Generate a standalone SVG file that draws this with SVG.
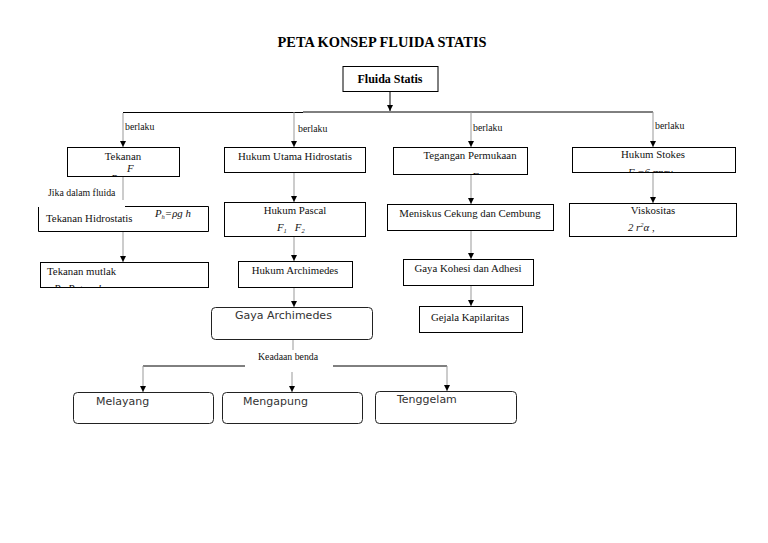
<svg xmlns="http://www.w3.org/2000/svg" width="768" height="543" viewBox="0 0 768 543">
<style>
.bx{fill:#fff;stroke:#000;stroke-width:1}
.rb{fill:#fff;stroke:#222;stroke-width:1}
.t{font-family:"Liberation Serif","Times New Roman",serif;font-size:10.8px;fill:#111}
.tm{text-anchor:middle}
.s{font-family:"DejaVu Sans",sans-serif;font-size:11px;fill:#333}
.sm{font-family:"Liberation Serif",serif;font-size:9.8px;fill:#111}
.i{font-style:italic}
.h{stroke:#000;stroke-width:1;fill:none}
.v{stroke:#999;stroke-width:1;fill:none}
.va{stroke:#999;stroke-width:1;fill:none;marker-end:url(#ah)}
.vk{stroke:#000;stroke-width:1;fill:none;marker-end:url(#ah)}
</style>
<defs>
<marker id="ah" markerUnits="userSpaceOnUse" markerWidth="6" markerHeight="6" refX="6" refY="3" orient="auto">
<path d="M0,0 L6,3 L0,6 z" fill="#000"/>
</marker>
<clipPath id="c1"><rect x="68" y="148" width="111" height="28"/></clipPath>
<clipPath id="c2"><rect x="41" y="263" width="166" height="24"/></clipPath>
<clipPath id="c3"><rect x="394" y="148" width="133" height="26"/></clipPath>
<clipPath id="c4"><rect x="573" y="148" width="162" height="24"/></clipPath>
</defs>
<rect width="768" height="543" fill="#fff"/>

<text x="382" y="47" text-anchor="middle" font-family="Liberation Serif,serif" font-weight="bold" font-size="15" textLength="209" lengthAdjust="spacingAndGlyphs">PETA KONSEP FLUIDA STATIS</text>

<g id="connectors">
<path class="vk" d="M390,92 V111"/>
<path class="h" d="M123,112.5 H303 M303,112 H653"/>
<path class="va" d="M123,113 V147"/>
<path class="va" d="M294,112 V147"/>
<path class="va" d="M471,112 V147"/>
<path class="va" d="M653,112 V147"/>
<path class="v" d="M123,177 V200"/>
<path class="va" d="M123,231 V262"/>
<path class="va" d="M294,173 V202"/>
<path class="va" d="M294,237 V261"/>
<path class="va" d="M294,288 V307"/>
<path class="v" d="M293,339 V350"/>
<path class="va" d="M471,175 V204"/>
<path class="va" d="M471,231 V259"/>
<path class="va" d="M471,286 V306"/>
<path class="va" d="M653,173 V203"/>
<path class="h" d="M143,366 H245 M333,366 H447"/>
<path class="va" d="M143,366 V392"/>
<path class="va" d="M292,372 V392"/>
<path class="va" d="M447,366 V391"/>
<text class="sm" x="125" y="130">berlaku</text>
<text class="sm" x="298" y="132">berlaku</text>
<text class="sm" x="473" y="131">berlaku</text>
<text class="sm" x="655" y="129">berlaku</text>
<text class="sm" x="258" y="360">Keadaan benda</text>
<text class="sm" x="48" y="196">Jika dalam fluida</text>
</g>

<g id="fluida-statis">
<rect class="bx" x="343" y="66.5" width="95" height="25"/>
<text x="390" y="83" text-anchor="middle" font-family="Liberation Serif,serif" font-weight="bold" font-size="12">Fluida Statis</text>
</g>

<g id="tekanan">
<rect class="bx" x="67.5" y="147.5" width="112" height="29"/>
<text class="t tm" x="123" y="160">Tekanan</text>
<g clip-path="url(#c1)">
<text class="t i" x="127" y="172" font-size="11.5">F</text>
<text class="t i" x="111" y="182" font-size="11.5">P=</text>
</g>
</g>

<g id="tekanan-hidrostatis">
<path class="h" d="M125,206.5 H208.5 V231.5 H38.5 V207"/>
<text class="t" x="46" y="222">Tekanan Hidrostatis</text>
<text class="t i" x="155" y="217" font-size="12">P<tspan font-size="6.5" dy="2">h</tspan><tspan dy="-2">=ρg h</tspan></text>
</g>

<g id="tekanan-mutlak">
<rect class="bx" x="40.5" y="262.5" width="168" height="25"/>
<text class="t" x="47" y="275">Tekanan mutlak</text>
<g clip-path="url(#c2)">
<text class="t i" x="54" y="292" font-size="11.5">P=P<tspan font-size="6.5" dy="2">0</tspan><tspan dy="-2">+ρg h</tspan></text>
</g>
</g>

<g id="hukum-utama-hidrostatis">
<rect class="bx" x="224.5" y="147.5" width="141" height="25"/>
<text class="t tm" x="295" y="160">Hukum Utama Hidrostatis</text>
</g>

<g id="hukum-pascal">
<rect class="bx" x="224.5" y="202.5" width="141" height="34"/>
<text class="t tm" x="295" y="214">Hukum Pascal</text>
<text class="t i" x="277" y="231" font-size="11.5">F<tspan font-size="6.5" dy="2">1</tspan><tspan dy="-2" dx="8">F</tspan><tspan font-size="6.5" dy="2">2</tspan></text>
</g>

<g id="hukum-archimedes">
<rect class="bx" x="238.5" y="261.5" width="114" height="26"/>
<text class="t tm" x="295" y="274">Hukum Archimedes</text>
</g>

<g id="gaya-archimedes">
<rect class="rb" x="211.5" y="307.5" width="161" height="32" rx="4"/>
<text class="s" x="235" y="319">Gaya Archimedes</text>
</g>

<g id="melayang">
<rect class="rb" x="73.5" y="392.5" width="140" height="31" rx="4"/>
<text class="s" x="96" y="405">Melayang</text>
</g>

<g id="mengapung">
<rect class="rb" x="222.5" y="392.5" width="140" height="31" rx="4"/>
<text class="s" x="243" y="405">Mengapung</text>
</g>

<g id="tenggelam">
<rect class="rb" x="375.5" y="391.5" width="141" height="32" rx="4"/>
<text class="s" x="397" y="403">Tenggelam</text>
</g>

<g id="tegangan-permukaan">
<rect class="bx" x="393.5" y="147.5" width="134" height="27"/>
<text class="t tm" x="470" y="159">Tegangan Permukaan</text>
<g clip-path="url(#c3)">
<text class="t i" x="472" y="180" font-size="11.5">F</text>
</g>
</g>

<g id="meniskus">
<rect class="bx" x="387.5" y="204.5" width="166" height="26"/>
<text class="t tm" x="470" y="217">Meniskus Cekung dan Cembung</text>
</g>

<g id="gaya-kohesi">
<rect class="bx" x="403.5" y="259.5" width="130" height="26"/>
<text class="t tm" x="468" y="272">Gaya Kohesi dan Adhesi</text>
</g>

<g id="gejala-kapilaritas">
<rect class="bx" x="419.5" y="306.5" width="103" height="26"/>
<text class="t tm" x="470" y="321">Gejala Kapilaritas</text>
</g>

<g id="hukum-stokes">
<rect class="bx" x="572.5" y="147.5" width="163" height="25"/>
<text class="t tm" x="653" y="158">Hukum Stokes</text>
<g clip-path="url(#c4)">
<text class="t i" x="628" y="176" font-size="11.5">F =6 πηrv</text>
</g>
</g>

<g id="viskositas">
<rect class="bx" x="569.5" y="203.5" width="167" height="33"/>
<text class="t tm" x="653" y="214">Viskositas</text>
<text class="t i" x="628" y="231" font-size="12">2 r<tspan font-size="6.5" dy="-4">2</tspan><tspan dy="4">α ,</tspan></text>
</g>
</svg>
